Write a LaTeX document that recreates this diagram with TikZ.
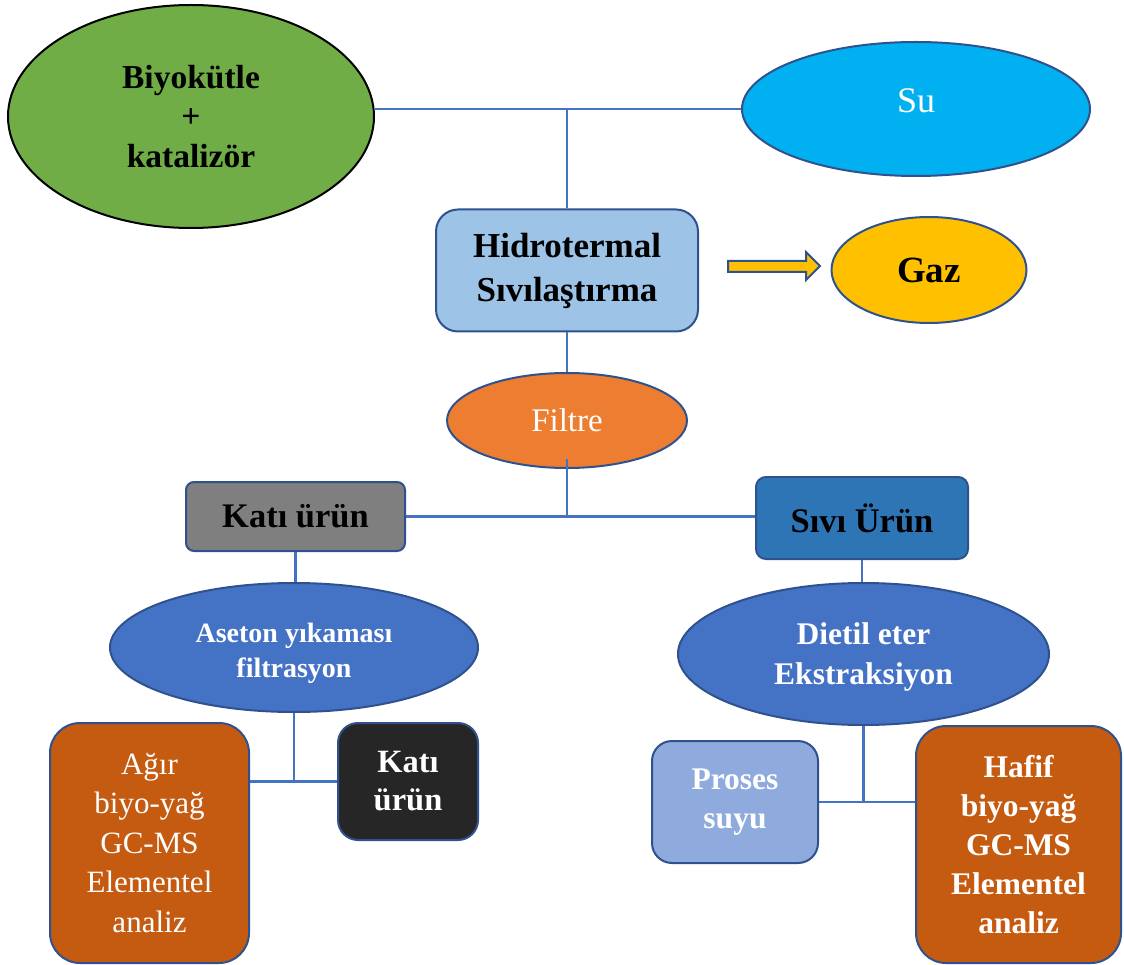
\documentclass[tikz,border=0pt]{standalone}
\usepackage{fontspec}
\setmainfont{Liberation Serif}
\usetikzlibrary{shapes.geometric}
\definecolor{bord}{HTML}{2F528F}
\definecolor{lineb}{HTML}{4472C4}
\definecolor{cgreen}{HTML}{70AD47}
\definecolor{ccyan}{HTML}{00B0F0}
\definecolor{clight}{HTML}{9DC3E6}
\definecolor{cgold}{HTML}{FFC000}
\definecolor{corange}{HTML}{ED7D31}
\definecolor{cgray}{HTML}{7F7F7F}
\definecolor{csivi}{HTML}{2E75B6}
\definecolor{cblue}{HTML}{4472C4}
\definecolor{cbrown}{HTML}{C55A11}
\definecolor{cdark}{HTML}{262626}
\definecolor{cproses}{HTML}{8FAADC}
\begin{document}
\begin{tikzpicture}[x=1pt,y=-1pt,
  ell/.style={ellipse, draw=bord, line width=2pt, inner sep=0pt, align=center},
  rbox/.style={rectangle, rounded corners=#1, draw=bord, line width=2pt, inner sep=0pt, align=center},
  conn/.style={draw=lineb, line width=2.2pt},
  bA/.style={font=\fontsize{34.5}{40}\selectfont\bfseries},
  bB/.style={font=\fontsize{31.5}{39}\selectfont\bfseries},
  rA/.style={font=\fontsize{33}{40}\selectfont},
  rB/.style={font=\fontsize{31}{39.5}\selectfont}
]
\useasboundingbox (0,0) rectangle (1124,965);

\node[ell, draw=black, fill=cgreen, minimum width=366pt, minimum height=223pt, font=\fontsize{33.5}{39.5}\selectfont\bfseries] (bio) at (191,116.5) {Biyokütle\\+\\katalizör};
\node[ell, fill=ccyan, minimum width=348pt, minimum height=134pt, font=\fontsize{36}{40}\selectfont, text=white] (su) at (916,109) {\raisebox{17pt}{Su}};
\node[rbox=22pt, fill=clight, minimum width=262pt, minimum height=122pt, font=\fontsize{35}{44}\selectfont\bfseries] (hid) at (567,270.5) {Hidrotermal\\Sıvılaştırma};
\node[ell, fill=cgold, minimum width=195pt, minimum height=106pt, font=\fontsize{37}{40}\selectfont\bfseries] (gaz) at (929,270) {Gaz};
\draw[fill=cgold, draw=bord, line width=2pt] (728,261) -- (806,261) -- (806,252) -- (820,266) -- (806,280) -- (806,272) -- (728,272) -- cycle;
\node[ell, fill=corange, minimum width=240pt, minimum height=95pt, rA, text=white] (filtre) at (567,420.5) {Filtre};
\node[rbox=8pt, fill=cgray, minimum width=219pt, minimum height=69pt, bA] (kati) at (295.5,516.5) {Katı ürün};
\node[rbox=10pt, fill=csivi, minimum width=212pt, minimum height=82pt, bA] (sivi) at (862,518) {Sıvı Ürün};
\node[ell, fill=cblue, minimum width=368pt, minimum height=129pt, font=\fontsize{28}{35}\selectfont\bfseries, text=white] (aseton) at (294,647.5) {\raisebox{-12pt}[0pt][0pt]{\begin{tabular}{@{}c@{}}Aseton yıkaması\\filtrasyon\end{tabular}}};
\node[ell, fill=cblue, minimum width=371pt, minimum height=142pt, font=\fontsize{31.5}{40}\selectfont\bfseries, text=white] (dietil) at (863.5,654) {\raisebox{-9pt}[0pt][0pt]{\begin{tabular}{@{}c@{}}Dietil eter\\Ekstraksiyon\end{tabular}}};
\node[rbox=30pt, fill=cbrown, minimum width=199pt, minimum height=240pt, rB, text=white] (agir) at (149.5,843) {Ağır\\biyo-yağ\\GC-MS\\Elementel\\analiz};
\node[rbox=20pt, fill=cdark, minimum width=140pt, minimum height=117pt, font=\fontsize{32.5}{38}\selectfont\bfseries, text=white] (katis) at (408,781.5) {Katı\\ürün};
\node[rbox=20pt, fill=cproses, minimum width=166pt, minimum height=122pt, bB, text=white] (proses) at (735,802) {Proses\\suyu};
\node[rbox=30pt, fill=cbrown, minimum width=205pt, minimum height=237pt, bB, text=white] (hafif) at (1018.5,844.5) {Hafif\\biyo-yağ\\GC-MS\\Elementel\\analiz};

\draw[conn] (su.west) -- (su.west -| bio.east);
\draw[conn] (hid.north) -- (hid.north |- su.west);
\draw[conn] (hid.south) -- (filtre.north);
\coordinate (fin) at ([yshift=10pt]filtre.south);
\draw[conn] (fin) -- (fin |- kati.east);
\draw[conn] (kati.east) -- (kati.east -| sivi.west);
\draw[conn] (kati.south) -- (kati.south |- aseton.north);
\draw[conn] (sivi.south) -- (sivi.south |- dietil.north);
\draw[conn] (aseton.south) -- (aseton.south |- katis.west);
\draw[conn] (katis.west) -- (katis.west -| agir.east);
\draw[conn] (dietil.south) -- (dietil.south |- proses.east);
\draw[conn] (proses.east) -- (proses.east -| hafif.west);
\end{tikzpicture}
\end{document}
